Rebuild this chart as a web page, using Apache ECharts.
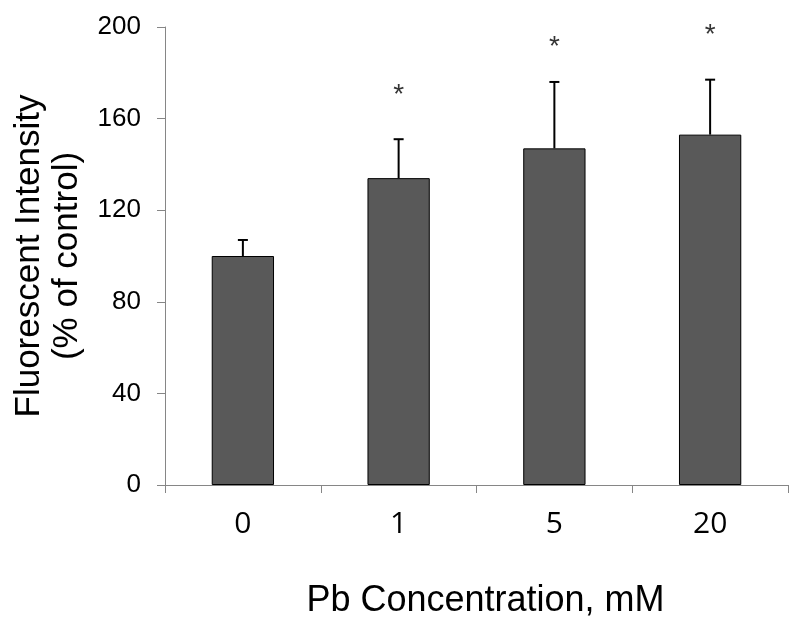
<!DOCTYPE html>
<html>
<head>
<meta charset="utf-8">
<script src="https://cdn.jsdelivr.net/npm/echarts@6/dist/echarts.min.js"></script>
<style>
  html, body { margin: 0; padding: 0; background: #fff; }
  #chart { width: 797px; height: 623px; }
</style>
</head>
<body>
<div id="chart"></div>
<script>
const categories = ['0', '1', '5', '20']
const means = [100, 134, 147, 153]
const errors = [7, 17, 29, 24]
const stars = [null, 172, 193, 198]
const yTicks = { min: 0, max: 200, interval: 40 }

const chart = echarts.init(document.getElementById('chart'))

const option = {
  animation: false,
  grid: { left: 165, right: 9, top: 27, bottom: 138, containLabel: false, outerBoundsMode: 'none' },
  xAxis: {
    type: 'category',
    data: categories,
    boundaryGap: true,
    name: 'Pb Concentration, mM',
    nameLocation: 'middle',
    nameGap: 98,
    nameTextStyle: { fontFamily: 'Liberation Sans', fontSize: 36, color: '#000', padding: [0, 0, 0, 18] },
    axisLine: { lineStyle: { color: '#868686', width: 1 } },
    axisTick: { show: true, length: 8, lineStyle: { color: '#868686' } },
    axisLabel: { fontFamily: 'Open Sans', fontSize: 30, color: '#000', margin: 24 }
  },
  yAxis: {
    type: 'value',
    min: yTicks.min,
    max: yTicks.max,
    interval: yTicks.interval,
    name: 'Fluorescent Intensity\n(% of control)',
    nameLocation: 'middle',
    nameRotate: 90,
    nameGap: 78,
    nameTextStyle: { fontFamily: 'Liberation Sans', fontSize: 35, color: '#000', lineHeight: 38 },
    splitLine: { show: false },
    axisLine: { show: true, lineStyle: { color: '#868686', width: 1 } },
    axisTick: { show: true, length: 8, lineStyle: { color: '#868686' } },
    axisLabel: { fontFamily: 'Liberation Sans', fontSize: 26, color: '#000', margin: 24 }
  },
  series: [
    {
      type: 'bar',
      data: means,
      barWidth: '40%',
      itemStyle: { color: '#595959', borderColor: '#000', borderWidth: 1 },
      z: 2
    },
    {
      type: 'custom',
      data: means.map((m, i) => [i, m, m + errors[i]]),
      renderItem: function (params, api) {
        const top = api.coord([api.value(0), api.value(2)])
        const base = api.coord([api.value(0), api.value(1)])
        const half = 5
        return {
          type: 'group',
          children: [
            { type: 'line', shape: { x1: base[0], y1: base[1], x2: top[0], y2: top[1] },
              style: { stroke: '#000', lineWidth: 2 } },
            { type: 'line', shape: { x1: top[0] - half, y1: top[1], x2: top[0] + half, y2: top[1] },
              style: { stroke: '#000', lineWidth: 2 } }
          ]
        }
      },
      z: 3
    },
    {
      type: 'scatter',
      data: stars.map((s, i) => (s == null ? [i, null] : [i, s])),
      symbolSize: 0,
      label: {
        show: true,
        position: 'inside',
        formatter: '*',
        fontFamily: 'Liberation Sans',
        fontSize: 28,
        color: '#000',
        offset: [0, 4]
      },
      z: 4
    }
  ]
}

chart.setOption(option)
</script>
</body>
</html>
